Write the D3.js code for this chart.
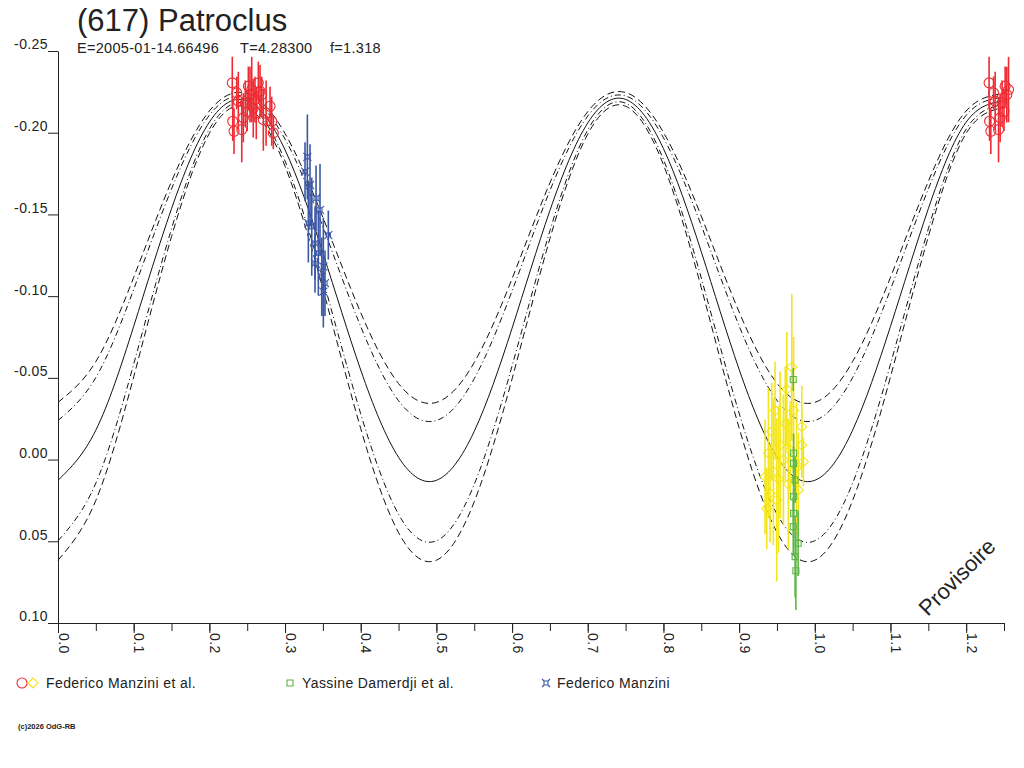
<!DOCTYPE html>
<html>
<head>
<meta charset="utf-8">
<script src="https://cdn.jsdelivr.net/npm/d3@7"></script>
<style>
    body { margin: 0; background: #fff; }
    text { font-family: "Liberation Sans", Arial, sans-serif; fill: #222; }
</style>
</head>
<body>
<div id="chart"></div>
<script>
// model curves, sampled every 0.05 in phase
let phases = d3.range(0, 26).map(i => +(i * 0.05).toFixed(2));

let curveMain = [0.0127, -0.0180, -0.0815, -0.1535, -0.2065, -0.2195, -0.1895, -0.1265, -0.0548, -0.0014,
    0.0127, -0.0173, -0.0804, -0.1524, -0.2060, -0.2204, -0.1903, -0.1272, -0.0552, -0.0016,
    0.0127, -0.0180, -0.0815, -0.1535, -0.2065, -0.2195];
let curveUpOuter = [-0.0350, -0.0600, -0.1115, -0.1702, -0.2133, -0.2240, -0.1995, -0.1482, -0.0899, -0.0465,
    -0.0350, -0.0594, -0.1107, -0.1693, -0.2129, -0.2246, -0.2002, -0.1489, -0.0903, -0.0467,
    -0.0350, -0.0600, -0.1115, -0.1702, -0.2133, -0.2240];
let curveUpInner = [-0.0239, -0.0502, -0.1041, -0.1656, -0.2107, -0.2218, -0.1961, -0.1425, -0.0814, -0.0360,
    -0.0239, -0.0495, -0.1032, -0.1646, -0.2102, -0.2225, -0.1969, -0.1432, -0.0818, -0.0362,
    -0.0239, -0.0502, -0.1041, -0.1656, -0.2107, -0.2218];
let curveLowInner = [0.0497, 0.0144, -0.0584, -0.1412, -0.2022, -0.2173, -0.1827, -0.1104, -0.0280, 0.0335,
    0.0497, 0.0152, -0.0573, -0.1400, -0.2017, -0.2181, -0.1836, -0.1111, -0.0284, 0.0333,
    0.0497, 0.0144, -0.0584, -0.1412, -0.2022, -0.2173];
let curveLowOuter = [0.0616, 0.0250, -0.0506, -0.1364, -0.1996, -0.2154, -0.1795, -0.1045, -0.0190, 0.0447,
    0.0616, 0.0258, -0.0494, -0.1352, -0.1991, -0.2162, -0.1804, -0.1052, -0.0194, 0.0445,
    0.0616, 0.0250, -0.0506, -0.1364, -0.1996, -0.2154];

// observations: [phase, relative magnitude, error]
let redObs = [
    [0.2303, -0.2305, 0.016], [0.2309, -0.2070, 0.012], [0.2326, -0.2009, 0.014],
    [0.2362, -0.2244, 0.010], [0.2383, -0.2193, 0.018], [0.2428, -0.2019, 0.020],
    [0.2449, -0.2091, 0.015], [0.2475, -0.2180, 0.014], [0.2500, -0.2130, 0.012],
    [0.2515, -0.2285, 0.012], [0.2537, -0.2233, 0.017], [0.2560, -0.2264, 0.020],
    [0.2580, -0.2150, 0.018], [0.2603, -0.2203, 0.014], [0.2620, -0.2120, 0.016],
    [0.2647, -0.2305, 0.013], [0.2670, -0.2254, 0.016], [0.2692, -0.2233, 0.011],
    [0.2713, -0.2080, 0.019], [0.2750, -0.2120, 0.020], [0.2802, -0.2162, 0.012],
    [0.2824, -0.2070, 0.015], [0.2845, -0.1999, 0.010]
];
let yellowObs = [
    [0.9696, -0.0565, 0.045], [0.9630, -0.0430, 0.035], [0.9432, -0.0171, 0.030],
    [0.9828, -0.0201, 0.025], [0.9387, -0.0039, 0.040], [0.9542, -0.0089, 0.045],
    [0.9674, -0.0059, 0.030], [0.9828, -0.0089, 0.020], [0.9849, 0.0013, 0.015],
    [0.9585, 0.0002, 0.040], [0.9343, 0.0105, 0.035], [0.9453, 0.0074, 0.045],
    [0.9409, 0.0206, 0.030], [0.9497, 0.0247, 0.050], [0.9783, 0.0186, 0.035],
    [0.9365, 0.0300, 0.025], [0.9475, -0.0300, 0.030], [0.9520, 0.0120, 0.045],
    [0.9610, -0.0220, 0.035], [0.9650, 0.0150, 0.040], [0.9720, -0.0300, 0.045],
    [0.9760, 0.0050, 0.040]
];
let greenObs = [
    [0.9715, -0.0490, 0.007], [0.9720, -0.0039, 0.012], [0.9720, 0.0023, 0.010],
    [0.9740, 0.0125, 0.014], [0.9720, 0.0227, 0.012], [0.9720, 0.0329, 0.015],
    [0.9715, 0.0410, 0.018], [0.9780, 0.0512, 0.020], [0.9740, 0.0594, 0.025],
    [0.9750, 0.0680, 0.024]
];
let blueObs = [
    [0.3295, -0.1852, 0.026], [0.3264, -0.1762, 0.018], [0.3330, -0.1680, 0.025],
    [0.3410, -0.1599, 0.020], [0.3462, -0.1528, 0.028], [0.3308, -0.1446, 0.024],
    [0.3353, -0.1425, 0.030], [0.3572, -0.1374, 0.015], [0.3396, -0.1324, 0.022],
    [0.3440, -0.1263, 0.026], [0.3396, -0.1201, 0.018], [0.3506, -0.1181, 0.030],
    [0.3485, -0.1119, 0.024], [0.3528, -0.1079, 0.020], [0.3506, -0.1028, 0.022]
];

let xMajorTicks = d3.range(0, 13).map(i => +(i * 0.1).toFixed(1));
let xMinorTicks = d3.range(0, 26).map(i => +(i * 0.05).toFixed(2));
let yTicks = [-0.25, -0.20, -0.15, -0.10, -0.05, 0.00, 0.05, 0.10];

let legendNames = ["Federico Manzini et al.", "Yassine Damerdji et al.", "Federico Manzini"];

let svgWidth = 1024;
let svgHeight = 768;

let svg = d3.select("#chart")
    .append("svg")
    .attr("width", svgWidth)
    .attr("height", svgHeight);

let xScale = d3.scaleLinear().domain([0, 1.25]).range([58, 1004]);
let yScale = d3.scaleLinear().domain([-0.25, 0.10]).range([51, 623]);

// titles
svg.append("text")
    .attr("x", 77).attr("y", 31)
    .attr("font-size", 31)
    .text("(617) Patroclus");

let sub = [["E=2005-01-14.66496", 77], ["T=4.28300", 240], ["f=1.318", 330]];
svg.selectAll(".sub").data(sub).enter()
    .append("text")
    .attr("class", "sub")
    .attr("x", d => d[1]).attr("y", 53)
    .attr("font-size", 14.5)
    .attr("letter-spacing", 0.3)
    .text(d => d[0]);

// axes
let xAxisMinor = d3.axisBottom(xScale).tickValues(xMinorTicks).tickSize(8).tickSizeOuter(0).tickFormat("");
let xAxisMajor = d3.axisBottom(xScale).tickValues(xMajorTicks).tickSize(10).tickSizeOuter(0)
    .tickFormat(d => d.toFixed(1));

svg.append("g")
    .attr("transform", `translate(0, ${yScale(0.10)})`)
    .call(xAxisMinor);

let xAxisG = svg.append("g")
    .attr("transform", `translate(0, ${yScale(0.10)})`)
    .call(xAxisMajor);

xAxisG.selectAll("text")
    .attr("transform", "translate(0, 10) rotate(90)")
    .attr("x", 0).attr("y", 0).attr("dy", 0)
    .attr("text-anchor", "start")
    .attr("font-size", 14)
    .attr("letter-spacing", 0.4);

let yAxis = d3.axisLeft(yScale).tickValues(yTicks).tickSize(10).tickSizeOuter(0)
    .tickFormat(d => d.toFixed(2));

let yAxisG = svg.append("g")
    .attr("transform", `translate(${xScale(0)}, 0)`)
    .call(yAxis);

yAxisG.selectAll("text")
    .attr("x", -10)
    .attr("dy", "-0.15em")
    .attr("font-size", 14)
    .attr("letter-spacing", 0.4);

svg.selectAll(".domain, .tick line").attr("stroke", "#222");
svg.selectAll(".tick text").attr("fill", "#222").attr("font-family", "Liberation Sans, Arial, sans-serif");

// model curves
let lineGen = d3.line()
    .x(d => xScale(d[0]))
    .y(d => yScale(d[1]))
    .curve(d3.curveNatural);

let curves = [
    { values: curveUpOuter, dash: "7,4" },
    { values: curveUpInner, dash: "6,3,1,3" },
    { values: curveMain, dash: null },
    { values: curveLowInner, dash: "6,3,1,3" },
    { values: curveLowOuter, dash: "7,4" }
];

svg.append("g").selectAll("path")
    .data(curves)
    .enter()
    .append("path")
    .attr("d", d => lineGen(phases.map((p, i) => [p, d.values[i]])))
    .attr("fill", "none")
    .attr("stroke", "#111")
    .attr("stroke-width", 1)
    .attr("stroke-dasharray", d => d.dash);

// repeat the points of phase < 0.25 beyond phase 1
function wrap(obs) {
    let out = obs.slice();
    obs.forEach(d => {
        if (d[0] + 1 <= 1.256) out.push([d[0] + 1, d[1], d[2]]);
    });
    return out;
}

function drawSeries(obs, color, marker) {
    let g = svg.append("g");
    let pts = wrap(obs);
    g.selectAll("line")
        .data(pts)
        .enter()
        .append("line")
        .attr("x1", d => xScale(d[0])).attr("x2", d => xScale(d[0]))
        .attr("y1", d => yScale(d[1] - d[2])).attr("y2", d => yScale(d[1] + d[2]))
        .attr("stroke", color)
        .attr("stroke-width", 1.6);
    g.selectAll("path")
        .data(pts)
        .enter()
        .append("path")
        .attr("transform", d => `translate(${xScale(d[0])}, ${yScale(d[1])})`)
        .attr("d", marker)
        .attr("fill", "none")
        .attr("stroke", color)
        .attr("stroke-width", 1.1);
}

let circleMark = "M-5,0A5,5 0 1,0 5,0A5,5 0 1,0 -5,0Z";
let diamondMark = "M0,-5L5,0L0,5L-5,0Z";
let squareMark = "M-3,-3H3V3H-3Z";
let crossSquareMark = "M-2,-2H2V2H-2Z M-2,-2L-4,-4 M2,-2L4,-4 M2,2L4,4 M-2,2L-4,4";

let red = "#ee2b33";
let yellow = "#f3e51b";
let green = "#5db646";
let blue = "#3b57a6";

drawSeries(yellowObs, yellow, diamondMark);
drawSeries(greenObs, green, squareMark);
drawSeries(blueObs, blue, crossSquareMark);
drawSeries(redObs, red, circleMark);

// legend
let legend = svg.append("g");
legend.append("path").attr("transform", "translate(22, 683)").attr("d", circleMark)
    .attr("fill", "none").attr("stroke", red).attr("stroke-width", 1.1);
legend.append("path").attr("transform", "translate(33, 683)").attr("d", diamondMark)
    .attr("fill", "none").attr("stroke", yellow).attr("stroke-width", 1.1);
legend.append("path").attr("transform", "translate(290, 683)").attr("d", squareMark)
    .attr("fill", "none").attr("stroke", green).attr("stroke-width", 1.1);
legend.append("path").attr("transform", "translate(546, 683)").attr("d", crossSquareMark)
    .attr("fill", "none").attr("stroke", blue).attr("stroke-width", 1.1);

let legendX = [46, 302, 557];
legend.selectAll("text")
    .data(legendNames)
    .enter()
    .append("text")
    .attr("x", (d, i) => legendX[i])
    .attr("y", 688)
    .attr("font-size", 14)
    .attr("letter-spacing", 0.4)
    .text(d => d);

// watermark and footer
svg.append("text")
    .attr("transform", "translate(957, 577) rotate(-45)")
    .attr("text-anchor", "middle")
    .attr("dy", "0.35em")
    .attr("font-size", 22)
    .text("Provisoire");

svg.append("text")
    .attr("x", 18).attr("y", 729)
    .attr("font-size", 7.5)
    .attr("font-weight", "bold")
    .text("(c)2026 OdG-RB");
</script>
</body>
</html>
